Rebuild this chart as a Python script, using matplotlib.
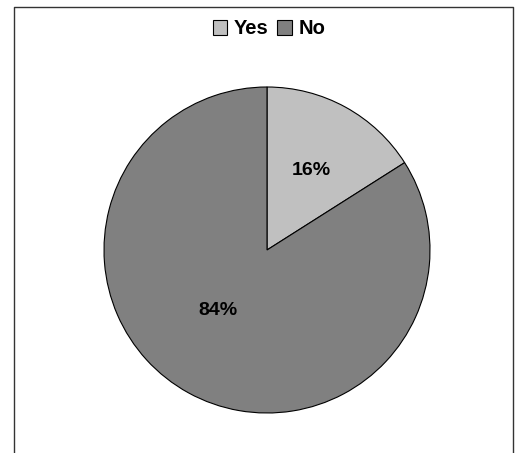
import matplotlib.pyplot as plt
from matplotlib.lines import Line2D

labels = ['Yes', 'No']
values = [16, 84]
colors = ['#c0c0c0', '#808080']

W, H = 517, 453
fig = plt.figure(figsize=(W / 100, H / 100), dpi=100)
plt.rcParams['font.family'] = ['Liberation Sans', 'DejaVu Sans']

# chart area border (left, top, right)
bx0, bx1, by0 = 13.5 / W, 512.5 / W, 1 - 6.5 / H
fig.add_artist(Line2D([bx0, bx0, bx1, bx1], [0, by0, by0, 0], color='#333333', lw=1))

cx, cy, r = 267, 250, 163
ax = fig.add_axes([(cx - r) / W, (H - cy - r) / H, 2 * r / W, 2 * r / H])
wedges, texts, autotexts = ax.pie(values, colors=colors, startangle=90, counterclock=False,
                                  radius=1, autopct='%d%%', pctdistance=0.56,
                                  wedgeprops=dict(edgecolor='black', linewidth=0.8),
                                  textprops=dict(fontsize=14, fontweight='bold', color='black'))
autotexts[1].set_position((-0.30, -0.374))
ax.set_xlim(-1, 1)
ax.set_ylim(-1, 1)
ax.set_aspect('equal')
ax.axis('off')

fig.legend(wedges, labels, loc='center', bbox_to_anchor=(269 / W, 1 - 29 / H), ncol=2,
           frameon=False, handlelength=0.7, handleheight=0.7, handletextpad=0.35,
           columnspacing=0.45, prop=dict(size=14.5, weight='bold'))

fig.savefig('out.png', dpi=100)
